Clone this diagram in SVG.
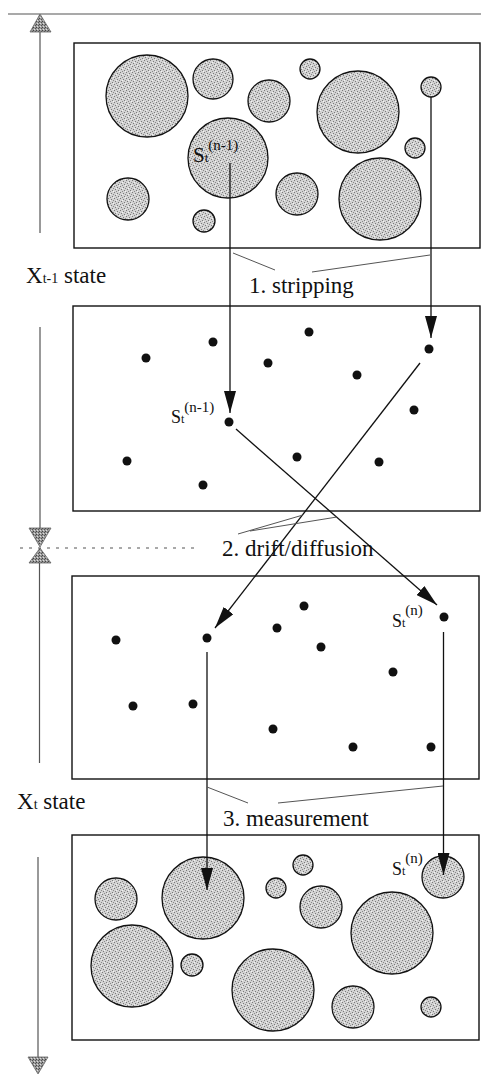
<svg xmlns="http://www.w3.org/2000/svg" width="481" height="1077" viewBox="0 0 481 1077">
<style>
.box{fill:#fff;stroke:#111;stroke-width:1.4}
.blob{fill:url(#stip);stroke:#111;stroke-width:1.3}
.dot{fill:#111}
.arr{stroke:#111;stroke-width:1.3;fill:none;marker-end:url(#ah)}
.br{stroke:#555;stroke-width:1;fill:none}
.axis{stroke:#555;stroke-width:1.2;fill:none}
.gh{fill:url(#stip2);stroke:#666;stroke-width:0.8}
.lbl{font-family:"Liberation Serif","Times New Roman",serif;fill:#111}
</style>
<defs>
<pattern id="stip" patternUnits="userSpaceOnUse" width="6" height="6">
<rect width="6" height="6" fill="#d2d2d2"/>
<rect x="0" y="0" width="1" height="1" fill="#7a7a7a"/>
<rect x="3" y="1" width="1" height="1" fill="#7a7a7a"/>
<rect x="1" y="3" width="1" height="1" fill="#7a7a7a"/>
<rect x="4" y="4" width="1" height="1" fill="#7a7a7a"/>
<rect x="2" y="5" width="1" height="1" fill="#8a8a8a"/>
<rect x="5" y="2" width="1" height="1" fill="#8a8a8a"/>
<rect x="2" y="2" width="1" height="1" fill="#f4f4f4"/>
<rect x="5" y="5" width="1" height="1" fill="#f4f4f4"/>
</pattern>
<pattern id="stip2" patternUnits="userSpaceOnUse" width="3" height="3">
<rect width="3" height="3" fill="#9a9a9a"/>
<rect x="0" y="0" width="1" height="1" fill="#444"/>
<rect x="2" y="1" width="1" height="1" fill="#555"/>
<rect x="1" y="2" width="1" height="1" fill="#ddd"/>
</pattern>
<marker id="ah" viewBox="0 0 22 12" refX="22" refY="6" markerWidth="22" markerHeight="12" markerUnits="userSpaceOnUse" orient="auto">
<path d="M0,0 L22,6 L0,12 z" fill="#111"/>
</marker>
</defs>

<g id="axis">
<line x1="8" y1="14" x2="481" y2="14" class="axis" stroke="#444"/>
<line x1="40" y1="30" x2="40" y2="233" class="axis"/>
<polygon class="gh" points="40,14 30,32 51,32"/>
<line x1="40" y1="327" x2="40" y2="529" class="axis"/>
<polygon class="gh" points="29,528 51,528 40,547"/>
<polygon class="gh" points="40,548 29,563 51,563"/>
<line x1="20" y1="548" x2="195" y2="548" class="axis" stroke="#777" stroke-dasharray="3 6"/>
<line x1="39.5" y1="563" x2="39.5" y2="763" class="axis"/>
<line x1="38" y1="857" x2="38" y2="1058" class="axis"/>
<polygon class="gh" points="28,1057 48,1057 38,1074"/>
<text class="lbl" x="26" y="283" font-size="23">X<tspan font-size="14">t-1</tspan> state</text>
<text class="lbl" x="17" y="809" font-size="23">X<tspan font-size="14">t</tspan> state</text>
</g>

<g id="box1">
<rect class="box" x="74" y="43" width="406" height="205"/>
<circle class="blob" cx="147" cy="96" r="41"/>
<circle class="blob" cx="213" cy="79" r="20"/>
<circle class="blob" cx="228" cy="158" r="40"/>
<circle class="blob" cx="128" cy="199" r="21"/>
<circle class="blob" cx="204" cy="221" r="11"/>
<circle class="blob" cx="310" cy="69" r="10"/>
<circle class="blob" cx="269" cy="101" r="21"/>
<circle class="blob" cx="358" cy="112" r="41"/>
<circle class="blob" cx="431" cy="87" r="10"/>
<circle class="blob" cx="415" cy="148" r="10"/>
<circle class="blob" cx="297" cy="194" r="21"/>
<circle class="blob" cx="380" cy="199" r="41"/>
<text class="lbl" x="193" y="162" font-size="21">S<tspan font-size="13">t</tspan><tspan font-size="15" dy="-12">(n-1)</tspan></text>
</g>

<g id="box2">
<rect class="box" x="73" y="306" width="407" height="205"/>
<circle class="dot" cx="146" cy="358" r="4.5"/>
<circle class="dot" cx="213" cy="342" r="4.5"/>
<circle class="dot" cx="127" cy="461" r="4.5"/>
<circle class="dot" cx="203" cy="485" r="4.5"/>
<circle class="dot" cx="229" cy="422" r="4.5"/>
<circle class="dot" cx="309" cy="332" r="4.5"/>
<circle class="dot" cx="268" cy="363" r="4.5"/>
<circle class="dot" cx="357" cy="375" r="4.5"/>
<circle class="dot" cx="429" cy="349" r="4.5"/>
<circle class="dot" cx="414" cy="410" r="4.5"/>
<circle class="dot" cx="297" cy="457" r="4.5"/>
<circle class="dot" cx="379" cy="462" r="4.5"/>
<text class="lbl" x="171" y="423" font-size="18">S<tspan font-size="12">t</tspan><tspan font-size="15" dy="-11">(n-1)</tspan></text>
</g>

<g id="box3">
<rect class="box" x="72" y="576" width="407" height="203"/>
<circle class="dot" cx="116" cy="640" r="4.5"/>
<circle class="dot" cx="207" cy="638" r="4.5"/>
<circle class="dot" cx="133" cy="706" r="4.5"/>
<circle class="dot" cx="193" cy="704" r="4.5"/>
<circle class="dot" cx="304" cy="606" r="4.5"/>
<circle class="dot" cx="277" cy="628" r="4.5"/>
<circle class="dot" cx="321" cy="647" r="4.5"/>
<circle class="dot" cx="393" cy="672" r="4.5"/>
<circle class="dot" cx="273" cy="729" r="4.5"/>
<circle class="dot" cx="353" cy="747" r="4.5"/>
<circle class="dot" cx="431" cy="747" r="4.5"/>
<circle class="dot" cx="444" cy="617" r="4.5"/>
<text class="lbl" x="392" y="627" font-size="18">S<tspan font-size="12">t</tspan><tspan font-size="15" dy="-12">(n)</tspan></text>
</g>

<g id="box4">
<rect class="box" x="72" y="835" width="407" height="205"/>
<circle class="blob" cx="116" cy="899" r="21"/>
<circle class="blob" cx="203" cy="898" r="41"/>
<circle class="blob" cx="132" cy="966" r="41"/>
<circle class="blob" cx="192" cy="965" r="11"/>
<circle class="blob" cx="273" cy="990" r="41"/>
<circle class="blob" cx="303" cy="865" r="10"/>
<circle class="blob" cx="276" cy="888" r="10"/>
<circle class="blob" cx="321" cy="907" r="21"/>
<circle class="blob" cx="392" cy="933" r="41"/>
<circle class="blob" cx="443" cy="877" r="21"/>
<circle class="blob" cx="353" cy="1007" r="21"/>
<circle class="blob" cx="431" cy="1007" r="10"/>
<text class="lbl" x="392" y="875" font-size="18">S<tspan font-size="12">t</tspan><tspan font-size="15" dy="-12">(n)</tspan></text>
</g>

<g id="steps">
<text class="lbl" x="249" y="293" font-size="23">1. stripping</text>
<text class="lbl" x="222" y="556" font-size="23">2. drift/diffusion</text>
<text class="lbl" x="223" y="826" font-size="23">3. measurement</text>
</g>

<g id="connectors">
<line class="arr" x1="230" y1="163" x2="230" y2="413"/>
<line class="arr" x1="431" y1="97" x2="431" y2="338"/>
<line class="arr" x1="236" y1="429" x2="437" y2="605"/>
<line class="arr" x1="420" y1="363" x2="215" y2="628"/>
<line class="arr" x1="207" y1="652" x2="207" y2="890"/>
<line class="arr" x1="443.5" y1="632" x2="443.5" y2="875"/>
<line class="br" x1="233" y1="253" x2="275" y2="270"/>
<line class="br" x1="312" y1="272" x2="430" y2="255"/>
<line class="br" x1="238" y1="534" x2="303" y2="515"/>
<line class="br" x1="250" y1="531" x2="337" y2="517"/>
<line class="br" x1="207" y1="787" x2="248" y2="803"/>
<line class="br" x1="278" y1="803" x2="443" y2="786"/>
</g>
</svg>
